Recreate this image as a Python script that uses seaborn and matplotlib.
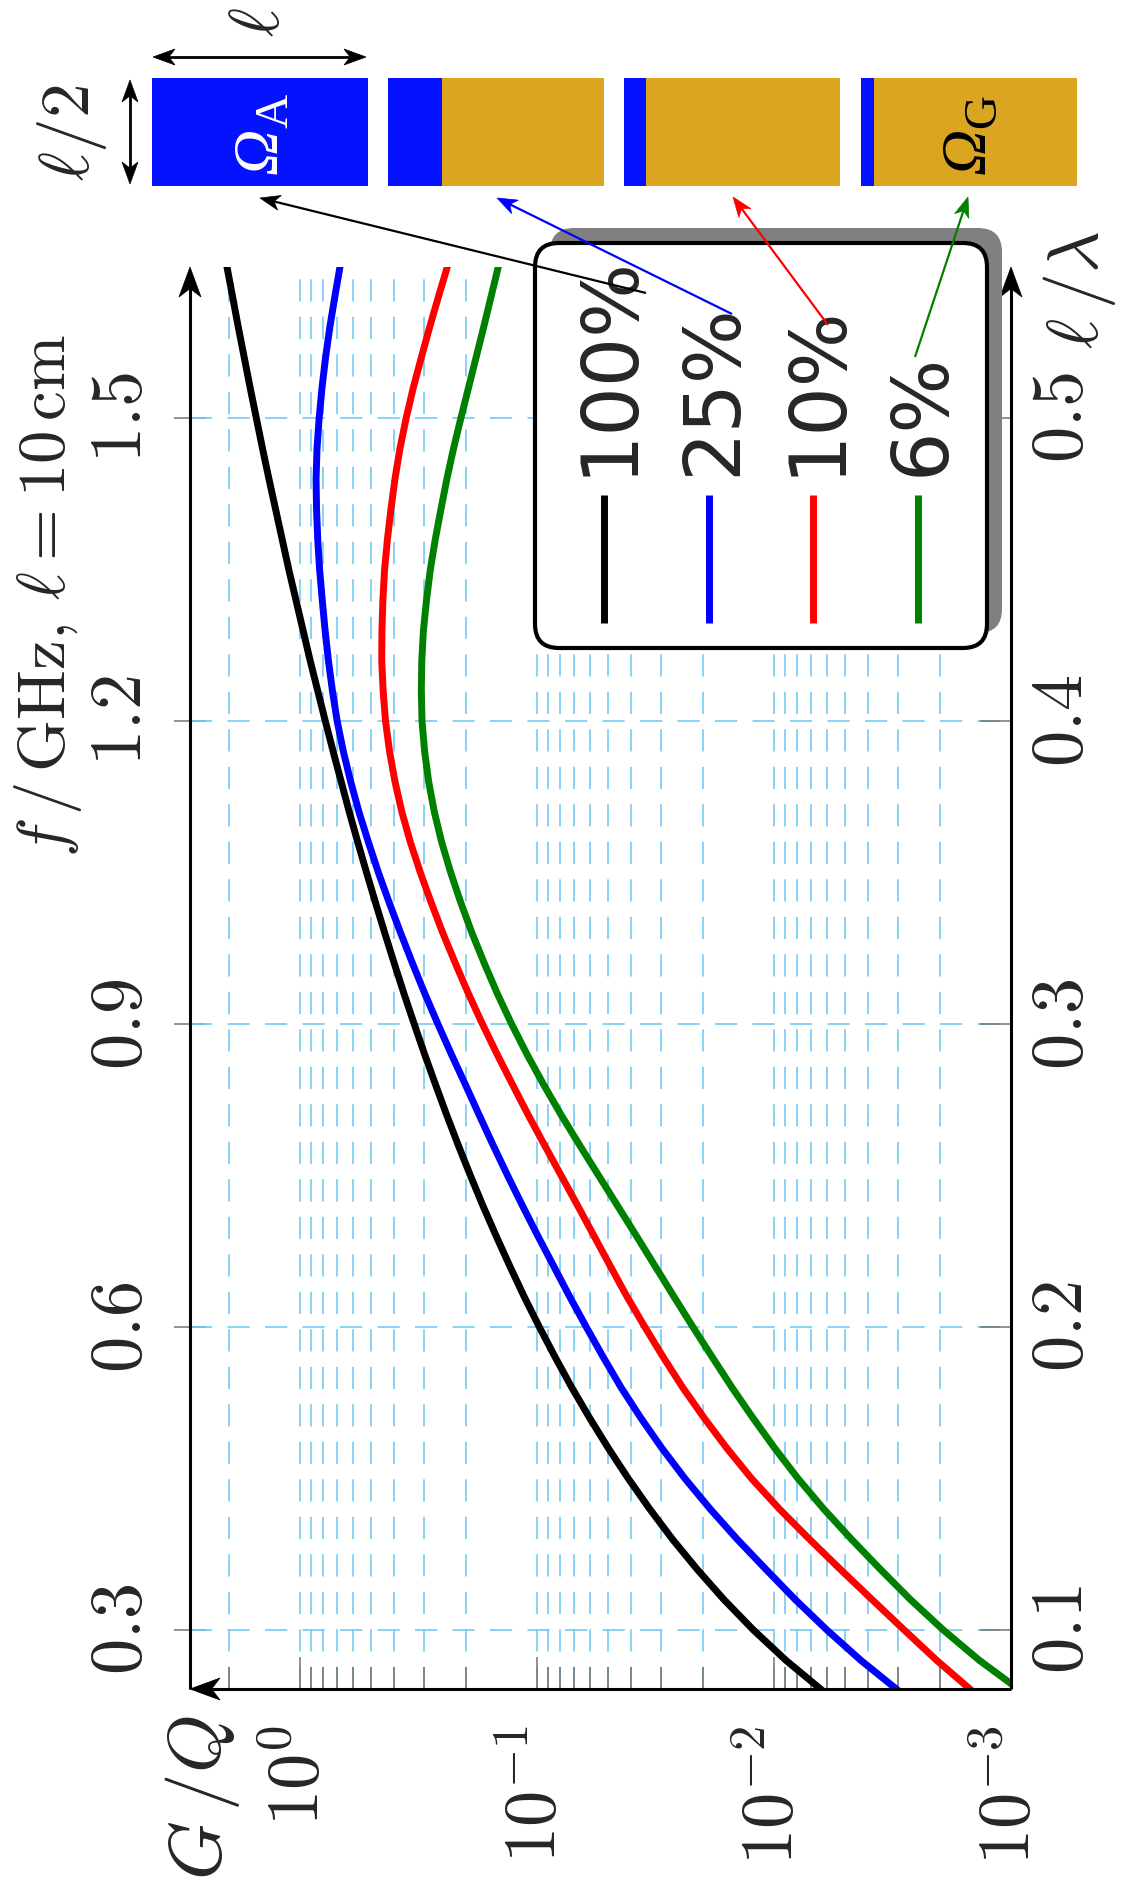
import numpy as np
import pandas as pd
import matplotlib
matplotlib.use("Agg")
import matplotlib.pyplot as plt
import seaborn as sns
from matplotlib.patches import Rectangle, FancyBboxPatch, Polygon
from matplotlib.ticker import FixedLocator, FixedFormatter, LogLocator, NullFormatter

# ---------------- data (G/Q stored as log10 values) ----------------
ell_over_lambda = [0.08, 0.09, 0.10, 0.11, 0.12, 0.13, 0.14, 0.15, 0.16, 0.17,
                   0.18, 0.19, 0.20, 0.21, 0.22, 0.23, 0.24, 0.25, 0.26, 0.27,
                   0.28, 0.29, 0.30, 0.31, 0.32, 0.33, 0.34, 0.35, 0.36, 0.37,
                   0.38, 0.39, 0.40, 0.41, 0.42, 0.43, 0.44, 0.45, 0.46, 0.47,
                   0.48, 0.49, 0.50, 0.51, 0.52, 0.53, 0.54, 0.55]
log10_gq_100 = [-2.204, -2.050, -1.913, -1.789, -1.676, -1.571, -1.475, -1.385, -1.301, -1.222,
                -1.147, -1.077, -1.010, -0.946, -0.886, -0.828, -0.772, -0.719, -0.668, -0.619,
                -0.572, -0.526, -0.482, -0.439, -0.398, -0.358, -0.319, -0.281, -0.244, -0.208,
                -0.174, -0.140, -0.107, -0.075, -0.043, -0.013, 0.017, 0.047, 0.075, 0.103,
                0.131, 0.158, 0.184, 0.210, 0.235, 0.260, 0.284, 0.308]
log10_gq_25 = [-2.524, -2.366, -2.223, -2.090, -1.966, -1.844, -1.730, -1.624, -1.527, -1.438,
               -1.355, -1.280, -1.208, -1.138, -1.071, -1.004, -0.939, -0.876, -0.815, -0.756,
               -0.698, -0.639, -0.582, -0.527, -0.475, -0.425, -0.377, -0.331, -0.289, -0.249,
               -0.214, -0.183, -0.157, -0.137, -0.120, -0.106, -0.094, -0.083, -0.075, -0.070,
               -0.068, -0.072, -0.081, -0.093, -0.108, -0.126, -0.147, -0.169]
log10_gq_10 = [-2.834, -2.686, -2.549, -2.414, -2.280, -2.149, -2.022, -1.905, -1.801, -1.705,
               -1.615, -1.533, -1.455, -1.380, -1.310, -1.241, -1.172, -1.102, -1.032, -0.963,
               -0.897, -0.832, -0.770, -0.711, -0.656, -0.603, -0.554, -0.508, -0.466, -0.430,
               -0.401, -0.378, -0.361, -0.351, -0.345, -0.346, -0.350, -0.357, -0.369, -0.384,
               -0.401, -0.422, -0.448, -0.478, -0.512, -0.547, -0.584, -0.622]
log10_gq_6 = [-3.039, -2.866, -2.714, -2.576, -2.449, -2.326, -2.209, -2.101, -2.003, -1.911,
              -1.823, -1.740, -1.658, -1.578, -1.499, -1.420, -1.340, -1.260, -1.180, -1.102,
              -1.028, -0.958, -0.893, -0.833, -0.778, -0.726, -0.679, -0.636, -0.598, -0.567,
              -0.543, -0.526, -0.515, -0.512, -0.514, -0.521, -0.534, -0.550, -0.571, -0.595,
              -0.620, -0.648, -0.679, -0.711, -0.743, -0.775, -0.806, -0.837]

fill_labels = ["100%", "25%", "10%", "6%"]
fill_fractions = [1.00, 0.25, 0.10, 0.06]
line_colors = ["#000000", "#0000ff", "#ff0000", "#008000"]

ell_ticks = [0.1, 0.2, 0.3, 0.4, 0.5]
ell_tick_labels = [r"$0.1$", r"$0.2$", r"$0.3$", r"$0.4$", r"$0.5$"]
f_ticks = [0.3, 0.6, 0.9, 1.2, 1.5]
f_tick_labels = [r"$0.3$", r"$0.6$", r"$0.9$", r"$1.2$", r"$1.5$"]
gq_ticks = [1e-3, 1e-2, 1e-1, 1e0]
gq_tick_labels = [r"$10^{-3}$", r"$10^{-2}$", r"$10^{-1}$", r"$10^{0}$"]

# ---------------- style ----------------
W, H = 1126, 1897
sns.set_style("white")
plt.rcParams.update({
    "mathtext.fontset": "cm",
    "lines.scale_dashes": False,
    "axes.unicode_minus": True,
})
plt.rcParams["font.family"] = ["DejaVu Sans"]

GRID_C = "#74c9f2"
TICK_C = "0.45"
BLUE_FILL = "#0512ff"
GOLD = "#daa520"
TICK_FS = 52

fig = plt.figure(figsize=(W / 100, H / 100), dpi=100)
L, R, T, B = 190, 1011, 267, 1689
ax = fig.add_axes([L / W, 1 - B / H, (R - L) / W, (B - T) / H])
ax.set_xscale("log")

series = [log10_gq_100, log10_gq_25, log10_gq_10, log10_gq_6]
df = pd.DataFrame({
    "ell": ell_over_lambda * len(series),
    "GQ": 10.0 ** np.concatenate(series),
    "fill": [lab for lab in fill_labels for _ in ell_over_lambda],
})
sns.lineplot(data=df, x="GQ", y="ell", hue="fill", hue_order=fill_labels,
             palette=line_colors, sort=False, estimator=None, legend=False,
             linewidth=5.0, ax=ax, zorder=3)
ax.set_xlabel("")
ax.set_ylabel("")
ax.set_xlim(2.91, 1e-3)
ax.set_ylim(0.0805, 0.5499)
for s in ax.spines.values():
    s.set_visible(False)
ax.patch.set_alpha(0)

# x axis (G/Q) ticks
ax.xaxis.set_major_locator(FixedLocator(gq_ticks))
ax.xaxis.set_major_formatter(FixedFormatter(gq_tick_labels))
ax.xaxis.set_minor_locator(LogLocator(base=10, subs=np.arange(2, 10), numticks=30))
ax.xaxis.set_minor_formatter(NullFormatter())
ax.tick_params(axis="x", which="major", direction="in", length=23, width=1.1,
               color=TICK_C, labelsize=TICK_FS, labelrotation=90, pad=26,
               bottom=True, top=False)
ax.tick_params(axis="x", which="minor", direction="in", length=16, width=1.1,
               color=TICK_C, bottom=True, top=False)

# y axis (ell/lambda) on the right
ax.yaxis.set_ticks_position("right")
ax.yaxis.set_major_locator(FixedLocator(ell_ticks))
ax.yaxis.set_major_formatter(FixedFormatter(ell_tick_labels))
ax.tick_params(axis="y", which="major", direction="in", length=22, width=1.1,
               color=TICK_C, labelsize=TICK_FS, labelrotation=90, pad=12,
               right=True, left=False)
for lab in ax.get_yticklabels():
    lab.set_va("center")

# grid
grid_kw = dict(color=GRID_C, linewidth=1.2, linestyle=(0, (16, 11)))
ax.grid(True, which="both", axis="x", **grid_kw)
ax.grid(True, which="major", axis="y", **grid_kw)
ax.set_axisbelow(True)

# left secondary axis: frequency for l = 10 cm
sec = ax.secondary_yaxis("left", functions=(lambda l: 3.0 * l, lambda f: f / 3.0))
sec.set_yticks(f_ticks, labels=f_tick_labels)
sec.tick_params(axis="y", direction="inout", length=23, width=1.1, color=TICK_C,
                labelsize=TICK_FS, labelrotation=90, pad=13)
sec.spines["left"].set_visible(False)
for lab in sec.get_yticklabels():
    lab.set_va("center")

# ---------------- overlay in pixel coords ----------------
ov = fig.add_axes([0, 0, 1, 1], zorder=10)
ov.set_xlim(0, W)
ov.set_ylim(H, 0)
ov.axis("off")
ov.patch.set_alpha(0)


def stealth(tip, direction, length, width, color, z=5):
    d = np.asarray(direction, float)
    d = d / np.hypot(*d)
    n = np.array([-d[1], d[0]])
    tip = np.asarray(tip, float)
    back = tip - d * length
    notch = tip - d * length * 0.72
    ov.add_patch(Polygon([tip, back + n * width / 2, notch, back - n * width / 2],
                         closed=True, fc=color, ec=color, lw=0.5, zorder=z))


def arrow(p0, p1, color, lw, hl, hw, z=5, both=False):
    p0 = np.asarray(p0, float)
    p1 = np.asarray(p1, float)
    d = p1 - p0
    u = d / np.hypot(*d)
    s = p0 + (u * hl * 0.6 if both else 0)
    e = p1 - u * hl * 0.6
    ov.plot([s[0], e[0]], [s[1], e[1]], color=color, lw=lw, zorder=z,
            solid_capstyle="butt")
    stealth(p1, d, hl, hw, color, z)
    if both:
        stealth(p0, -d, hl, hw, color, z)


# axis lines with arrowheads
AX_LW = 2.2
arrow((L, B), (L, T), "black", AX_LW, 30, 22, z=6)
arrow((R, B), (R, T), "black", AX_LW, 30, 22, z=6)
arrow((R, B), (L, B), "black", AX_LW, 30, 22, z=6)

# axis labels
ov.text(48, 596, r"$f\,/\,\mathrm{GHz},\,\ell = 10\,\mathrm{cm}$", rotation=90,
        fontsize=48, ha="center", va="center")
ov.text(1080, 290, r"$\ell\,/\lambda$", rotation=90, fontsize=52,
        ha="center", va="center")
ov.text(202, 1798, r"$G\,/Q$", rotation=90, fontsize=54,
        ha="center", va="center")

# legend (manual, rotated)
LX0, LY0, LX1, LY1 = 535, 243, 987, 648
ov.add_patch(FancyBboxPatch((LX0 + 15, LY0 - 15), LX1 - LX0, LY1 - LY0,
                            boxstyle="round,pad=0,rounding_size=24",
                            fc="#808080", ec="none", zorder=7))
ov.add_patch(FancyBboxPatch((LX0, LY0), LX1 - LX0, LY1 - LY0,
                            boxstyle="round,pad=0,rounding_size=24",
                            fc="white", ec="black", lw=3, zorder=8))
leg_x = [604, 709, 813, 918]
for xx, lab, col in zip(leg_x, fill_labels, line_colors):
    ov.plot([xx, xx], [495, 623], color=col, lw=5, zorder=9, solid_capstyle="butt")
    ov.text(xx + 26, 476, lab, rotation=90, rotation_mode="anchor",
            ha="left", va="baseline", fontsize=56, family="DejaVu Sans", zorder=9)

# schematic rectangles (blue share = fill fraction)
rect_x = [152, 388, 624, 861]
RW, RY, RH = 216, 78, 108
for x0, frac in zip(rect_x, fill_fractions):
    bw = RW * frac
    ov.add_patch(Rectangle((x0, RY), bw, RH, fc=BLUE_FILL, ec="none", zorder=4))
    if frac < 1:
        ov.add_patch(Rectangle((x0 + bw, RY), RW - bw, RH, fc=GOLD, ec="none", zorder=4))


def omega_label(xb, sub, color):
    ov.text(xb, 174, "\u03a9", rotation=90, rotation_mode="anchor", ha="left",
            va="baseline", fontsize=46, family="Liberation Serif", style="italic",
            color=color, zorder=5)
    ov.text(xb + 10, 128, sub, rotation=90, rotation_mode="anchor", ha="left",
            va="baseline", fontsize=34, family="Liberation Serif",
            color=color, zorder=5)


omega_label(277, "A", "white")
omega_label(985, "G", "black")

# dimension arrows
arrow((153, 57), (366, 57), "black", 2.0, 22, 16, both=True)
ov.text(260, 22, r"$\ell$", rotation=90, fontsize=50, ha="center", va="center")
arrow((130, 80), (130, 184), "black", 2.0, 22, 16, both=True)
ov.text(72, 133, r"$\ell/2$", rotation=90, fontsize=50, ha="center", va="center")

# pointer arrows from legend entries to the schematics
tails = [(646, 293), (732, 314), (828, 325), (915, 357)]
tips = [(260, 198), (497, 198), (733, 197), (968, 197)]
for (t0, t1, col) in zip(tails, tips, line_colors):
    arrow(t0, t1, col, 1.6, 20, 15, z=11)

fig.savefig("out.png", dpi=100)
